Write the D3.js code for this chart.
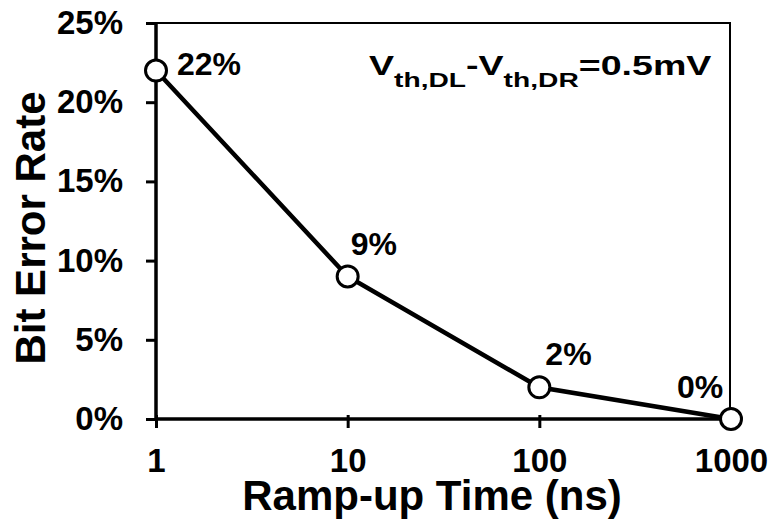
<!DOCTYPE html>
<html>
<head>
<meta charset="utf-8">
<script src="https://cdn.jsdelivr.net/npm/d3@7"></script>
<style>
  body { margin: 0; background: #fff; }
  text { font-family: "Liberation Sans", Arial, sans-serif; font-weight: bold; fill: #000; }
</style>
</head>
<body>
<svg id="chart" width="769" height="523"></svg>
<script>
const rampTimes = [1, 10, 100, 1000]
const errorRates = [22, 9, 2, 0]
const pointLabels = ["22%", "9%", "2%", "0%"]
const yTicks = [0, 5, 10, 15, 20, 25]
const xTicks = [1, 10, 100, 1000]

const margin = { left: 156, right: 38, top: 23, bottom: 104 }
const width = 769, height = 523

const svg = d3.select("#chart")

const x = d3.scaleLog().domain([1, 1000]).range([margin.left, width - margin.right])
const y = d3.scaleLinear().domain([0, 25]).range([height - margin.bottom, margin.top])

const fontStack = "Liberation Sans, Arial, sans-serif"

// frame: thin top / right lines
svg.append("line")
  .attr("x1", x(1)).attr("x2", x(1000))
  .attr("y1", y(25)).attr("y2", y(25))
  .attr("stroke", "#000").attr("stroke-width", 2)
svg.append("line")
  .attr("x1", x(1000) - 1).attr("x2", x(1000) - 1)
  .attr("y1", y(25)).attr("y2", y(0))
  .attr("stroke", "#000").attr("stroke-width", 2)

// y axis
const yAxis = svg.append("g")
  .attr("transform", `translate(${x(1)},0)`)
  .call(d3.axisLeft(y).tickValues(yTicks).tickFormat(d => d + "%").tickSize(10).tickPadding(23))
yAxis.select(".domain").attr("stroke-width", 3.5).attr("d", `M0,${y(25)}V${y(0)}`)
yAxis.selectAll(".tick line").attr("stroke-width", 3)
yAxis.selectAll(".tick text")
  .style("font-size", "33px").style("font-family", fontStack).style("font-weight", "bold")

// x axis
const xAxis = svg.append("g")
  .attr("transform", `translate(0,${y(0)})`)
  .call(d3.axisBottom(x).tickValues(xTicks).tickFormat(d3.format("d")).tickSize(9).tickPadding(21))
xAxis.select(".domain").attr("stroke-width", 3.5).attr("d", `M${x(1)},0H${x(1000)}`)
xAxis.selectAll(".tick line").attr("stroke-width", 3).attr("y1", -4)
xAxis.selectAll(".tick text")
  .style("font-size", "33px").style("font-family", fontStack).style("font-weight", "bold")

// axis titles
svg.append("text")
  .attr("x", 432).attr("y", 510)
  .attr("text-anchor", "middle")
  .style("font-size", "42px")
  .text("Ramp-up Time (ns)")

svg.append("text")
  .attr("transform", `translate(45,228) rotate(-90)`)
  .attr("text-anchor", "middle")
  .style("font-size", "42px")
  .text("Bit Error Rate")

// line + markers
const pts = rampTimes.map((t, i) => ({ t, v: errorRates[i], label: pointLabels[i] }))

svg.append("path")
  .datum(pts)
  .attr("fill", "none")
  .attr("stroke", "#000")
  .attr("stroke-width", 4.5)
  .attr("d", d3.line().x(d => x(d.t)).y(d => y(d.v)))

svg.selectAll("circle.pt")
  .data(pts)
  .enter().append("circle")
  .attr("class", "pt")
  .attr("cx", d => x(d.t))
  .attr("cy", d => y(d.v))
  .attr("r", 10.5)
  .attr("fill", "#fff")
  .attr("stroke", "#000")
  .attr("stroke-width", 3)

// data labels
const labelOffsets = [[21, -7], [3, -33], [6, -34], [-54, -32]]
svg.selectAll("text.lbl")
  .data(pts)
  .enter().append("text")
  .attr("class", "lbl")
  .attr("x", (d, i) => x(d.t) + labelOffsets[i][0])
  .attr("y", (d, i) => y(d.v) + labelOffsets[i][1])
  .attr("dy", "0.35em")
  .style("font-size", "32px")
  .text(d => d.label)

// annotation (stretched horizontally like the original text box)
const annG = svg.append("g")
const ann = annG.append("text")
  .attr("x", 0).attr("y", 0)
  .style("font-size", "28px")
ann.append("tspan").text("V")
ann.append("tspan").attr("dy", 12).style("font-size", "21px").text("th,DL")
ann.append("tspan").attr("dy", -12).text("-V")
ann.append("tspan").attr("dy", 12).style("font-size", "21px").text("th,DR")
ann.append("tspan").attr("dy", -12).text("=0.5mV")
const annW = ann.node().getBBox().width
annG.attr("transform", `translate(369,75) scale(${343 / annW},1)`)
</script>
</body>
</html>
